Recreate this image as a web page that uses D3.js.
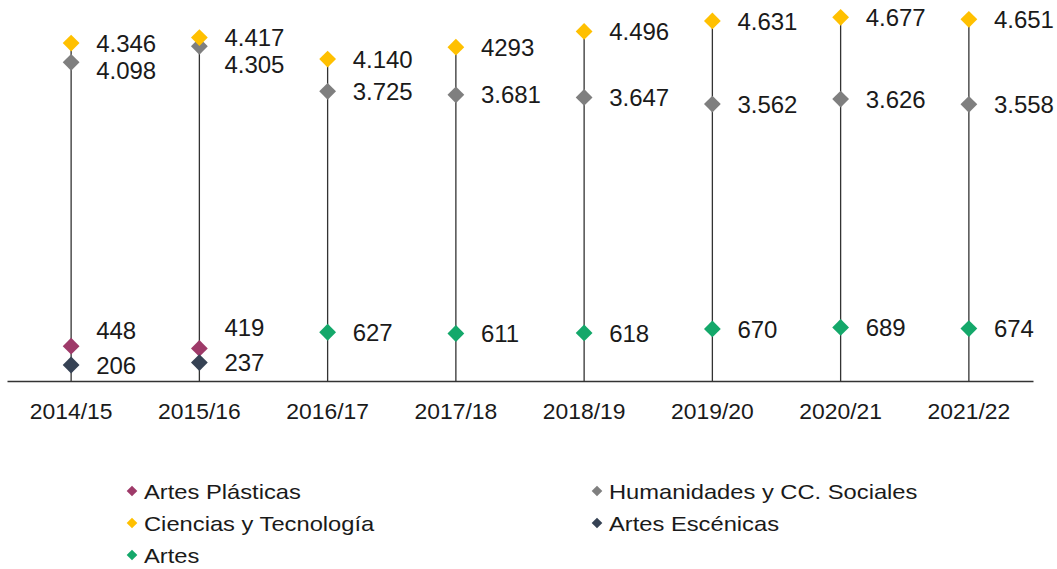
<!DOCTYPE html>
<html>
<head>
<meta charset="UTF-8">
<script src="https://cdnjs.cloudflare.com/ajax/libs/d3/7.8.5/d3.min.js"></script>
<style>
  body { margin: 0; background: #fff; }
  text { font-family: "Liberation Sans", Arial, sans-serif; fill: #1a1a1a; }
</style>
</head>
<body>
<svg id="chart"></svg>
<script>
// categories (curso académico)
const cursos = ["2014/15", "2015/16", "2016/17", "2017/18", "2018/19", "2019/20", "2020/21", "2021/22"];

// series values, null = no data that year
const artesPlasticas = [448, 419, null, null, null, null, null, null];
const artesEscenicas = [206, 237, null, null, null, null, null, null];
const humanidades    = [4098, 4305, 3725, 3681, 3647, 3562, 3626, 3558];
const ciencias       = [4346, 4417, 4140, 4293, 4496, 4631, 4677, 4651];
const artes          = [null, null, 627, 611, 618, 670, 689, 674];

// the source prints 2017/18 without separator
const cienciasLabels = ["4.346", "4.417", "4.140", "4293", "4.496", "4.631", "4.677", "4.651"];

const width = 1057, height = 569;
const baseY = 381;

const svg = d3.select("#chart")
    .attr("width", width)
    .attr("height", height);

const es = d3.formatLocale({decimal: ",", thousands: ".", grouping: [3], currency: ["", " €"]});
const fmt = es.format(",d");

// drawing order: later series sit on top
const series = [
    {name: "Artes Plásticas", values: artesPlasticas, color: "#9e3a69"},
    {name: "Artes Escénicas", values: artesEscenicas, color: "#364254"},
    {name: "Humanidades y CC. Sociales", values: humanidades, color: "#7f7f7f"},
    {name: "Ciencias y Tecnología", values: ciencias, color: "#ffc000", labels: cienciasLabels},
    {name: "Artes", values: artes, color: "#14a86a"}
];
const legendOrder = ["Artes Plásticas", "Humanidades y CC. Sociales", "Ciencias y Tecnología", "Artes Escénicas", "Artes"];

const x = d3.scaleBand()
    .domain(cursos)
    .range([7, 1033]);

const y = d3.scaleLinear()
    .domain([0, 4900])
    .range([baseY, 0]);

// flatten into points
const points = [];
series.forEach(s => {
    s.values.forEach((v, i) => {
        if (v == null) return;
        points.push({
            serie: s.name,
            color: s.color,
            curso: cursos[i],
            value: v,
            label: s.labels ? s.labels[i] : fmt(v)
        });
    });
});

// stems: baseline up to the highest point of each year
const maxByCurso = d3.rollup(points, v => d3.max(v, d => d.value), d => d.curso);

svg.append("g")
    .selectAll("line")
    .data(cursos)
    .join("line")
    .attr("x1", d => x(d) + x.bandwidth() / 2)
    .attr("x2", d => x(d) + x.bandwidth() / 2)
    .attr("y1", baseY)
    .attr("y2", d => y(maxByCurso.get(d)))
    .attr("stroke", "#333")
    .attr("stroke-width", 1.3);

// x axis
const xAxis = svg.append("g")
    .attr("transform", `translate(0,${baseY})`)
    .call(d3.axisBottom(x).tickSize(0).tickPadding(0));
xAxis.select(".domain")
    .attr("stroke", "#333")
    .attr("stroke-width", 1.3);
xAxis.selectAll(".tick text")
    .attr("y", 38)
    .attr("dy", null)
    .attr("fill", "#1a1a1a")
    .style("font-size", "22px")
    .attr("transform", "scale(1.04,1)");

// diamonds
const diamond = d3.symbol().type(d3.symbolDiamond2);

svg.append("g")
    .selectAll("path")
    .data(points)
    .join("path")
    .attr("d", diamond.size(180)())
    .attr("transform", d => `translate(${x(d.curso) + x.bandwidth() / 2},${y(d.value)})`)
    .attr("fill", d => d.color);

// value labels, nudged apart when two are too close
const minGap = 27;
const labelPos = new Map();
d3.group(points, d => d.curso).forEach(group => {
    const sorted = group.slice().sort((a, b) => b.value - a.value);
    sorted.forEach(p => labelPos.set(p, y(p.value)));
    for (let i = 1; i < sorted.length; i++) {
        const up = sorted[i - 1], down = sorted[i];
        const gap = labelPos.get(down) - labelPos.get(up);
        if (gap < minGap) {
            if (baseY - labelPos.get(down) < 30) {
                labelPos.set(up, labelPos.get(down) - minGap - 8);
            } else {
                labelPos.set(down, labelPos.get(up) + minGap);
            }
        }
    }
});

svg.append("g")
    .selectAll("text")
    .data(points)
    .join("text")
    .attr("x", d => x(d.curso) + x.bandwidth() / 2 + 25)
    .attr("y", d => labelPos.get(d))
    .attr("dy", "0.36em")
    .style("font-size", "24px")
    .text(d => d.label);

// legend
const legend = svg.append("g");
const legendItems = legendOrder.map(n => series.find(s => s.name === n));

const item = legend.selectAll("g")
    .data(legendItems)
    .join("g")
    .attr("transform", (d, i) => {
        const col = i % 2, row = Math.floor(i / 2);
        return `translate(${col === 0 ? 132 : 597},${491 + row * 32})`;
    });

item.append("path")
    .attr("d", diamond.size(72)())
    .attr("fill", d => d.color);

item.append("text")
    .attr("dy", "0.36em")
    .attr("transform", "translate(12,0) scale(1.13,1)")
    .style("font-size", "21px")
    .text(d => d.name);
</script>
</body>
</html>
